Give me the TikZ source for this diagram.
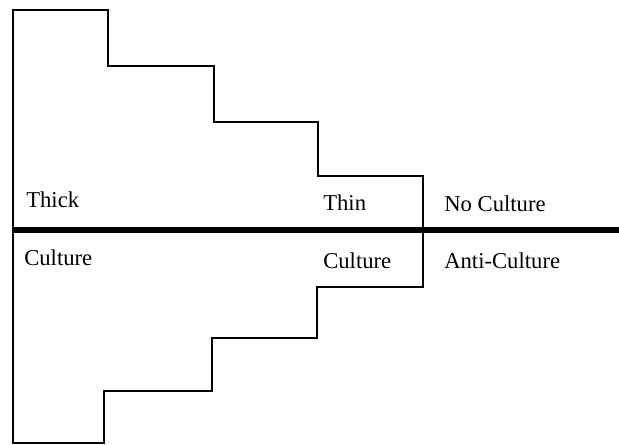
\documentclass[tikz,border=0pt]{standalone}
\usepackage{fontspec}
\setmainfont{Liberation Serif}
\usepackage{tikz}
\usetikzlibrary{calc}

\begin{document}
\begin{tikzpicture}[x=0.75pt, y=-0.75pt,
        label/.style={draw=none, inner sep=0pt, anchor=base west, font=\fontsize{17}{20}\selectfont},
        steps/.style={line width=1.1pt, line join=miter},
        divider/.style={line width=4.5pt}]
    	\useasboundingbox (0,0) rectangle (619,445);
    	
    	% the stepped outline
    	\draw[steps] (13,10) -- (108,10) -- (108,66) -- (214,66) -- (214,122)
    		-- (318,122) -- (318,176) -- (423,176) -- (423,287)
    		-- (317,287) -- (317,338) -- (212,338) -- (212,391)
    		-- (104,391) -- (104,443) -- (13,443) -- cycle;
    	
    	\coordinate (left) at (13,230);
    	\coordinate (right) at (619,230);
    	\draw[divider] (left) -- (right);
    	
    	\node[label] (thick) at (26,208) {Thick};
    	\node[label] (thin) at (323,211) {Thin};
    	\node[label] (noculture) at (444,212) {No Culture};
    	\node[label] (culturel) at (24,266) {Culture};
    	\node[label] (culturer) at (323,269) {Culture};
    	\node[label] (anticulture) at (444,269) {Anti-Culture};
    \end{tikzpicture}
\end{document}
